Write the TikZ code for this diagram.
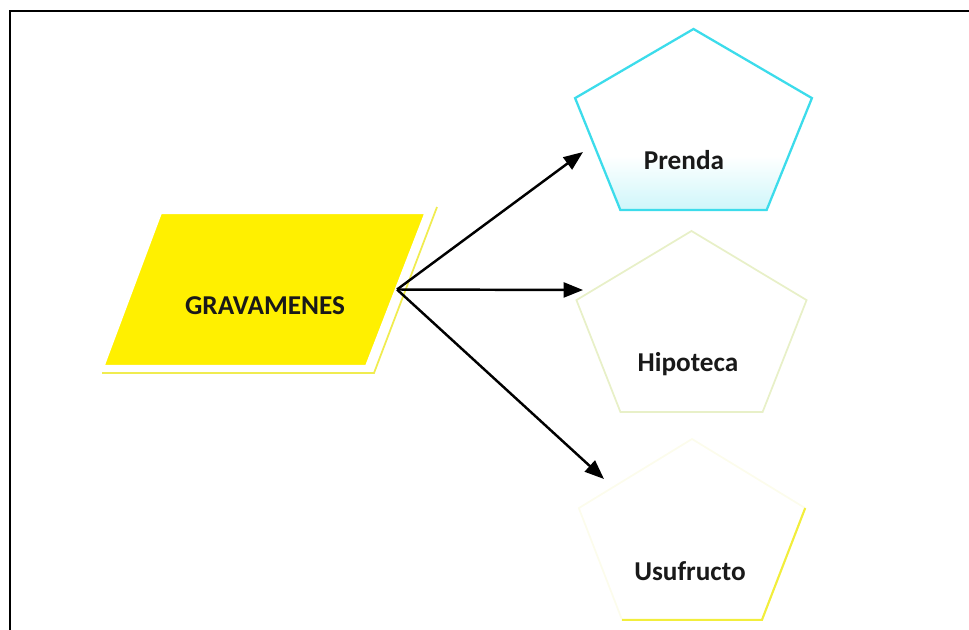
\documentclass[tikz,border=0pt]{standalone}
\usepackage{fontspec}
\setmainfont{Carlito}
\usetikzlibrary{arrows.meta,calc}

\definecolor{gvyellow}{RGB}{255,240,0}
\definecolor{gvshadow}{RGB}{240,236,80}
\definecolor{prendacyan}{RGB}{60,220,235}
\definecolor{hipofaint}{RGB}{232,240,200}
\definecolor{usuyellow}{RGB}{242,238,60}
\definecolor{usufaint}{RGB}{252,252,236}

% fades to white above the lower part of the pentagon
\pgfdeclareverticalshading{prendafade}{100bp}{color(0bp)=(prendacyan!30); color(25bp)=(prendacyan!25); color(40bp)=(white); color(100bp)=(white)}

% pentagon round a centre: #1 centre, #2 xscale, #3 style
\newcommand{\pentashape}[3]{%
  \begin{scope}[shift={(#1)}, xscale=#2]
    \draw[#3] (270:100) -- (342:100) -- (54:100) -- (126:100) -- (198:100) -- cycle;
  \end{scope}}

\begin{document}
\begin{tikzpicture}[x=0.02cm, y=-0.02cm]
	\tikzstyle{label}=[font=\fontsize{15.5}{18}\selectfont\bfseries, text=black!90, inner sep=0pt]
	\tikzstyle{arrow}=[black, line width=1.4pt, -{Triangle[length=11pt,width=8.5pt]}]
	\useasboundingbox (0,0) rectangle (969,629);
	% frame
	\draw [black, line width=1.6pt] (990,11) -- (10,11) -- (10,650);
	% gravamenes
	\coordinate (gv-nw) at (160,212);
	\coordinate (gv-ne) at (427,212);
	\coordinate (gv-se) at (367,367);
	\coordinate (gv-sw) at (102,367);
	\draw [gvshadow, line width=1pt] ([shift={(10,-5)}]gv-ne) -- ([shift={(7,6)}]gv-se) -- ([shift={(0,6)}]gv-sw);
	\filldraw [fill=gvyellow, draw=white, line width=2.5pt] (gv-nw) -- (gv-ne) -- (gv-se) -- (gv-sw) -- cycle;
	\node [label] (gv) at (265,306) {GRAVAMENES};
	\coordinate (gv-e) at ($(gv-ne)!.5!(gv-se)$);
	% pentagons
	\pentashape{693.5,129}{1.245}{prendacyan, line width=1.3pt, shading=prendafade}
	\pentashape{691.5,331}{1.21}{hipofaint, line width=1pt}
	\pentashape{692,539}{1.19}{usufaint, line width=1pt}
	\begin{scope}[shift={(692,539)}, xscale=1.19]
		\draw [usuyellow, line width=1.2pt] (342:100) -- (54:100) -- (126:100);
	\end{scope}
	\node [label] (prenda) at (684,160) {Prenda};
	\node [label] (hipoteca) at (688,364) {Hipoteca};
	\node [label] (usufructo) at (690,571) {Usufructo};
	% arrow ends
	\coordinate (prenda-in) at (583,152);
	\coordinate (hipoteca-in) at (583,290);
	\coordinate (usufructo-in) at (604,479);
	\draw [arrow] (gv-e) -- (prenda-in);
	\draw [arrow] (gv-e) -- (hipoteca-in);
	\draw [arrow] (gv-e) -- (usufructo-in);
\end{tikzpicture}
\end{document}
